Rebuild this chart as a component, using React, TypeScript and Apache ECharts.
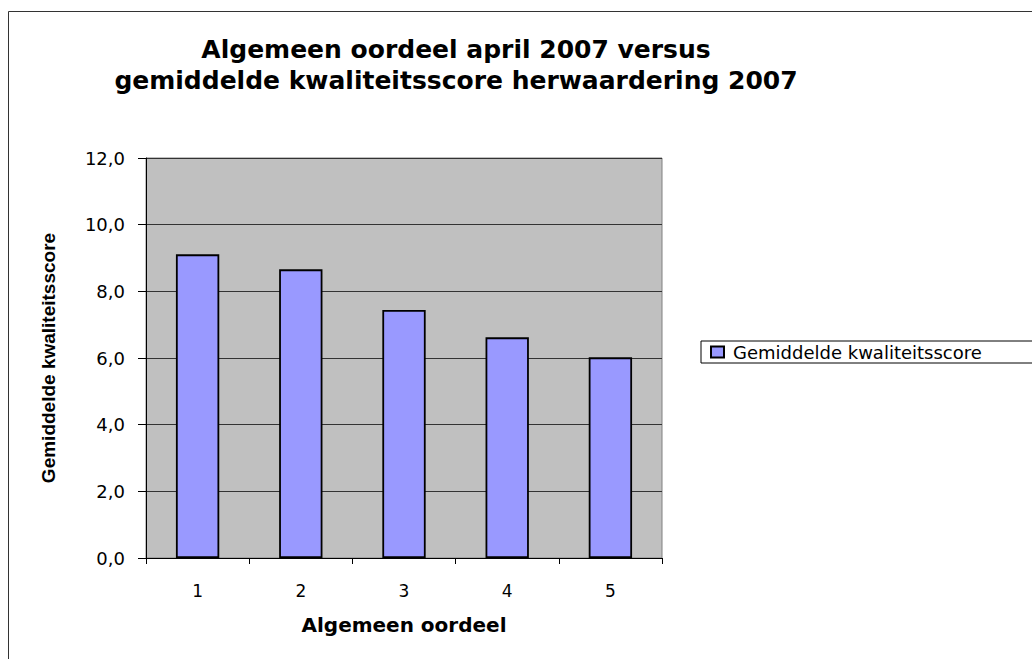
import React, { useEffect, useRef } from "react";
import * as echarts from "echarts";

const categories = ["1", "2", "3", "4", "5"];
const scores = [9.11, 8.66, 7.44, 6.62, 6.02];
const seriesName = "Gemiddelde kwaliteitsscore";
const titleLines = ["Algemeen oordeel april 2007 versus", "gemiddelde kwaliteitsscore herwaardering 2007"];
const xName = "Algemeen oordeel";
const yName = "Gemiddelde kwaliteitsscore";

const WIDE = "'DejaVu Sans', Verdana, sans-serif";
const ARIAL = "'Liberation Sans', Arial, sans-serif";

export default function App() {
  const ref = useRef<HTMLDivElement>(null);
  useEffect(() => {
    const chart = echarts.init(ref.current!, null, { renderer: "svg" });
    chart.setOption({
      animation: false,
      backgroundColor: "#ffffff",
      title: {
        text: titleLines.join("\n"),
        left: 456,
        textAlign: "center",
        top: 34,
        padding: 0,
        textStyle: { fontFamily: WIDE, fontSize: 25, fontWeight: "bold", color: "#000", lineHeight: 31 },
      },
      graphic: [
        {
          type: "rect",
          shape: { x: 8.5, y: 11.5, width: 1100, height: 700 },
          style: { fill: "none", stroke: "#333", lineWidth: 1 },
          silent: true,
        },
      ],
      legend: {
        left: 701,
        top: 341,
        orient: "vertical",
        padding: [2, 90, 2, 9],
        borderColor: "#000",
        borderWidth: 1,
        itemWidth: 13,
        itemHeight: 11,
        icon: "rect",
        textStyle: { fontFamily: WIDE, fontSize: 18, color: "#000", padding: [0, 0, 0, 4] },
        data: [seriesName],
      },
      grid: {
        left: 146,
        top: 158,
        width: 516,
        height: 400,
        show: true,
        backgroundColor: "#c0c0c0",
        borderColor: "#808080",
        borderWidth: 1,
      },
      xAxis: {
        type: "category",
        data: categories,
        name: xName,
        nameLocation: "middle",
        nameGap: 57,
        nameTextStyle: { fontFamily: WIDE, fontSize: 20, fontWeight: "bold", color: "#000" },
        axisLine: { lineStyle: { color: "#000", width: 1 } },
        axisTick: { show: true, length: 6, interval: 0, alignWithLabel: false, lineStyle: { color: "#000" } },
        axisLabel: { fontFamily: WIDE, fontSize: 17, color: "#000", margin: 24 },
      },
      yAxis: {
        type: "value",
        min: 0,
        max: 12,
        interval: 2,
        name: yName,
        nameLocation: "middle",
        nameGap: 88,
        nameTextStyle: { fontFamily: ARIAL, fontSize: 19, fontWeight: "bold", color: "#000" },
        axisLine: { show: true, lineStyle: { color: "#000", width: 1 } },
        axisTick: { show: true, length: 8, lineStyle: { color: "#000" } },
        axisLabel: {
          fontFamily: WIDE,
          fontSize: 18,
          color: "#000",
          margin: 21,
          formatter: (v: number) => v.toFixed(1).replace(".", ","),
        },
        splitLine: { show: true, lineStyle: { color: "#333", width: 1 } },
      },
      series: [
        {
          name: seriesName,
          type: "bar",
          data: scores,
          barWidth: "42%",
          itemStyle: { color: "#9999ff", borderColor: "#000", borderWidth: 1.8 },
        },
      ],
    });
    return () => chart.dispose();
  }, []);
  return <div ref={ref} style={{ position: "absolute", left: 0, top: 0, width: 1032, height: 659 }} />;
}
